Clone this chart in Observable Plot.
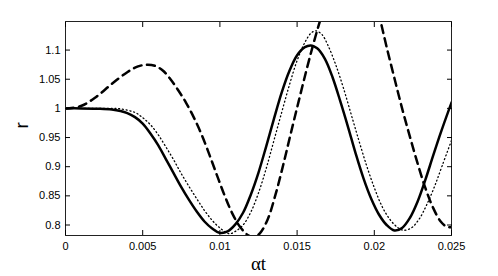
<!DOCTYPE html>
<html><head><meta charset="utf-8">
<script src="https://cdn.jsdelivr.net/npm/d3@7"></script>
<script src="https://cdn.jsdelivr.net/npm/@observablehq/plot@0.6"></script>
<style>body{margin:0;background:#fff} #chart{width:498px;height:276px}</style>
</head><body><div id="chart"></div>
<script>
const xTicks = [0, 0.005, 0.01, 0.015, 0.02, 0.025];
const xTickLabels = ["0", "0.005", "0.01", "0.015", "0.02", "0.025"];
const yTicks = [0.8, 0.85, 0.9, 0.95, 1, 1.05, 1.1];
const yTickLabels = ["0.8", "0.85", "0.9", "0.95", "1", "1.05", "1.1"];
const xLabel = "αt";
const yLabel = "r";

const solidX = [0, 0.001, 0.002, 0.003, 0.004, 0.0045, 0.005, 0.0055, 0.006, 0.0065, 0.007, 0.0075, 0.008, 0.0085, 0.009, 0.0095, 0.010, 0.0105, 0.011, 0.0115, 0.012, 0.0125, 0.013, 0.0135, 0.014, 0.0145, 0.015, 0.0155, 0.0159, 0.0163, 0.0168, 0.0173, 0.0178, 0.0183, 0.0188, 0.0193, 0.0198, 0.0203, 0.0208, 0.0213, 0.0218, 0.0223, 0.0228, 0.0233, 0.0238, 0.0243, 0.025];
const solidY = [1.0, 1.0, 0.9995, 0.998, 0.992, 0.985, 0.974, 0.957, 0.937, 0.913, 0.889, 0.865, 0.843, 0.823, 0.806, 0.794, 0.7865, 0.789, 0.801, 0.821, 0.852, 0.89, 0.935, 0.982, 1.027, 1.064, 1.091, 1.105, 1.108, 1.103, 1.085, 1.053, 1.012, 0.968, 0.922, 0.88, 0.845, 0.818, 0.8, 0.7905, 0.795, 0.812, 0.84, 0.877, 0.918, 0.958, 1.01];

const dottedX = [0, 0.001, 0.002, 0.003, 0.0036, 0.0045, 0.005, 0.0055, 0.006, 0.0065, 0.007, 0.0075, 0.008, 0.0085, 0.009, 0.0095, 0.010, 0.0106, 0.011, 0.0115, 0.012, 0.0125, 0.013, 0.0135, 0.014, 0.0145, 0.015, 0.0155, 0.0159, 0.0162, 0.0166, 0.017, 0.0175, 0.018, 0.0185, 0.019, 0.0195, 0.02, 0.0205, 0.021, 0.0215, 0.0219, 0.0224, 0.0229, 0.0234, 0.0239, 0.0244, 0.025];
const dottedY = [1.0, 1.0, 1.0, 1.0, 0.999, 0.993, 0.984, 0.972, 0.955, 0.934, 0.912, 0.888, 0.866, 0.845, 0.825, 0.808, 0.795, 0.785, 0.789, 0.8, 0.822, 0.855, 0.897, 0.945, 0.993, 1.04, 1.082, 1.113, 1.129, 1.133, 1.127, 1.108, 1.075, 1.035, 0.99, 0.945, 0.902, 0.864, 0.832, 0.81, 0.796, 0.791, 0.795, 0.81, 0.835, 0.866, 0.902, 0.945];

const dashedX = [0, 0.001, 0.002, 0.003, 0.004, 0.0047, 0.0053, 0.0058, 0.0063, 0.0068, 0.0073, 0.0078, 0.0083, 0.0088, 0.0093, 0.0098, 0.0103, 0.0108, 0.0113, 0.0118, 0.0122, 0.0126, 0.0131, 0.0136, 0.0141, 0.0146, 0.0151, 0.0156, 0.0161, 0.0166, 0.0171, 0.0176, 0.0181, 0.0185, 0.019, 0.0195, 0.02, 0.0204, 0.0208, 0.0213, 0.0218, 0.0223, 0.0228, 0.0233, 0.0238, 0.0243, 0.0247, 0.025];
const dashedY = [1.0, 1.004, 1.02, 1.042, 1.062, 1.072, 1.075, 1.073, 1.065, 1.05, 1.031, 1.01, 0.985, 0.956, 0.922, 0.886, 0.851, 0.82, 0.797, 0.783, 0.779, 0.786, 0.81, 0.852, 0.903, 0.958, 1.012, 1.065, 1.115, 1.16, 1.2, 1.23, 1.247, 1.25, 1.243, 1.222, 1.19, 1.15, 1.105, 1.052, 1.0, 0.952, 0.906, 0.864, 0.83, 0.806, 0.797, 0.796];

const rows = (xs, ys) => xs.map((x, i) => ({x, y: ys[i]}));

const plot = Plot.plot({
  width: 498, height: 276,
  marginLeft: 65, marginRight: 47, marginTop: 21, marginBottom: 41,
  x: {domain: [0, 0.025]},
  y: {domain: [0.782, 1.149]},
  style: {fontFamily: "'Liberation Sans', Arial, sans-serif", fontSize: "11px", color: "#000", background: "#fff"},
  marks: [
    Plot.line(rows(dottedX, dottedY), {x: "x", y: "y", stroke: "#000", strokeWidth: 1.3, strokeDasharray: "1,2.8", curve: "catmull-rom", clip: true}),
    Plot.line(rows(dashedX, dashedY), {x: "x", y: "y", stroke: "#000", strokeWidth: 2.5, strokeDasharray: "8,5.5", curve: "catmull-rom", clip: true}),
    Plot.line(rows(solidX, solidY), {x: "x", y: "y", stroke: "#000", strokeWidth: 2.5, curve: "catmull-rom", clip: true}),
    Plot.frame({stroke: "#222", strokeWidth: 1}),
    Plot.axisX(xTicks, {anchor: "bottom", tickSize: -5, tickPadding: 12, tickFormat: d => xTickLabels[xTicks.indexOf(d)], label: null}),
    Plot.axisX(xTicks, {anchor: "top", tickSize: -5, tickFormat: () => "", label: null}),
    Plot.axisY(yTicks, {anchor: "left", tickSize: -5, tickPadding: 10, tickFormat: d => yTickLabels[yTicks.indexOf(d)], label: null}),
    Plot.axisY(yTicks, {anchor: "right", tickSize: -5, tickFormat: () => "", label: null}),
    Plot.text([xLabel], {frameAnchor: "bottom", dy: 28, fontSize: 19, fill: "#000", fontFamily: "'Liberation Serif', serif", lineAnchor: "middle"}),
    Plot.text([yLabel], {frameAnchor: "left", dx: -44, rotate: -90, fontSize: 19, fill: "#000", lineAnchor: "middle"})
  ]
});
document.getElementById("chart").appendChild(plot);
</script>
</body></html>
